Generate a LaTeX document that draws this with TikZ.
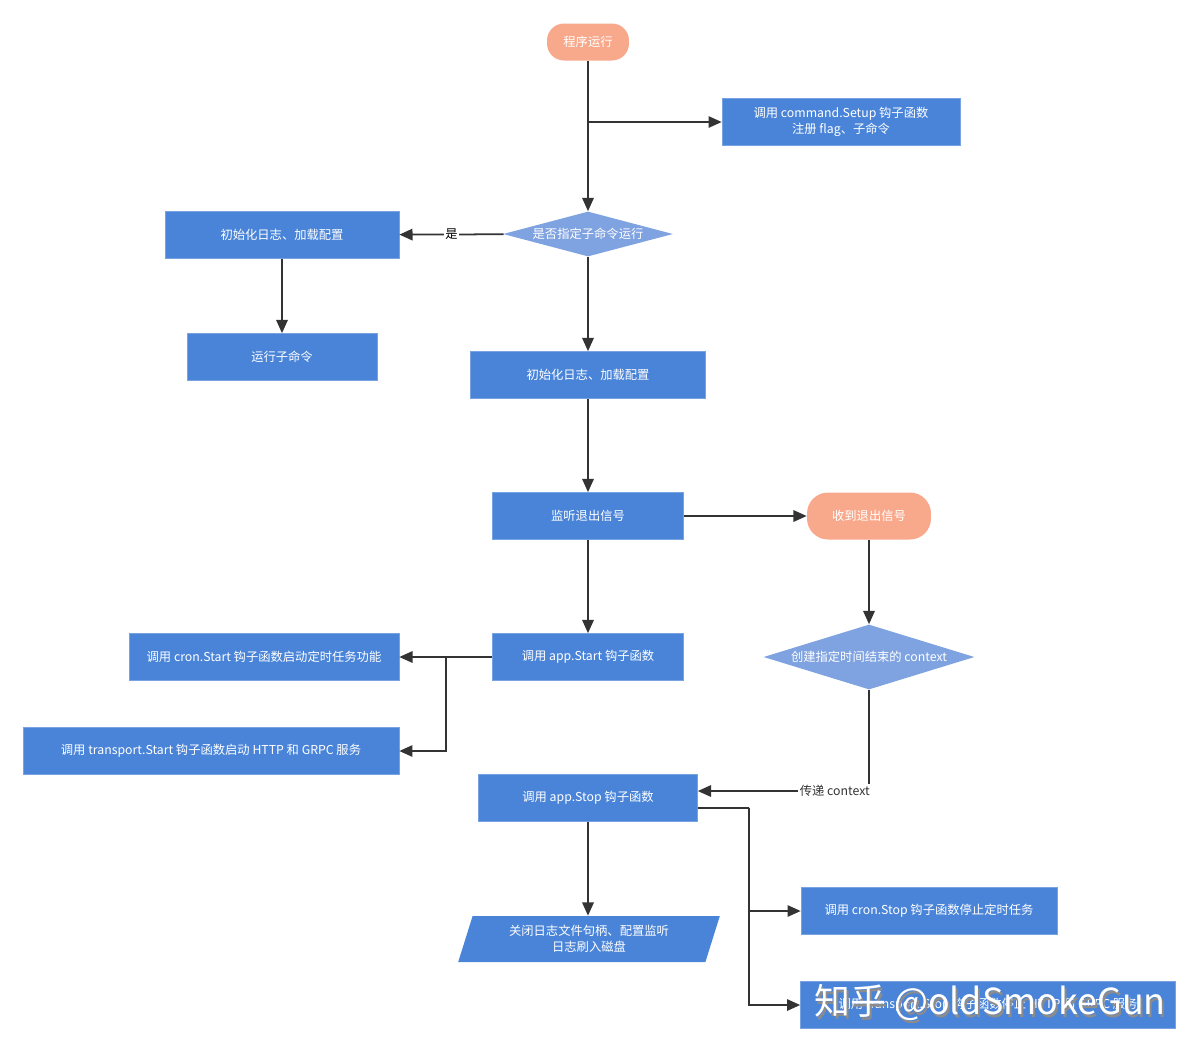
\documentclass[tikz,border=0pt]{standalone}
\usepackage{fontspec}
\setmainfont{Noto Sans CJK SC}
\usetikzlibrary{shapes.geometric,arrows.meta}
\definecolor{boxblue}{HTML}{4A84D8}
\definecolor{diamondblue}{HTML}{7FA2E0}
\definecolor{startorange}{HTML}{F8A98C}
\definecolor{linegray}{HTML}{333333}

\begin{document}
\begin{tikzpicture}[
    x=0.02cm, y=-0.02cm,
    font=\fontsize{7}{9}\selectfont,
    process/.style={rectangle, fill=boxblue, draw=boxblue!75!white, line width=0.4pt, text=white, inner sep=0pt, minimum height=0.94cm, align=center},
    terminal/.style={rectangle, rounded corners=0.34cm, fill=startorange, text=white, inner sep=0pt, minimum height=0.74cm},
    decision/.style={diamond, fill=diamondblue, text=white, inner sep=0pt},
    io_box/.style={trapezium, trapezium left angle=70, trapezium right angle=110, trapezium stretches=true, fill=boxblue, text=white, inner sep=0pt, align=center},
    flow_edge/.style={linegray, line width=1pt, -{Triangle[length=7.5pt, width=6.5pt]}},
    plain_edge/.style={linegray, line width=1pt},
    edge_label/.style={fill=white, text=black, inner sep=1pt}
]
\useasboundingbox (0,0) rectangle (1200,1052);

% --- Start and setup ---
\node[terminal, minimum width=1.64cm] (start) at (588,42) {程序运行};
\node[process, minimum width=4.76cm] (setup) at (841,122) {调用 command.Setup 钩子函数\\注册 flag、子命令};
\node[decision, aspect=3.8, minimum width=3.4cm, minimum height=0.9cm] (subcmd) at (588,234) {是否指定子命令运行};

\draw[flow_edge] (start) -- (subcmd);
\draw[flow_edge] (start |- setup) -- (setup);

% --- Sub command branch (left) ---
\node[process, minimum width=4.68cm] (initsub) at (282,235) {初始化日志、加载配置};
\node[process, minimum width=3.8cm] (runsub) at (282,357) {运行子命令};

\draw[flow_edge] (subcmd) -- node[edge_label] {是} (initsub);
\draw[flow_edge] (initsub) -- (runsub);

% --- Main branch ---
\node[process, minimum width=4.7cm] (initmain) at (588,375) {初始化日志、加载配置};
\node[process, minimum width=3.82cm] (listen) at (588,516) {监听退出信号};
\node[process, minimum width=3.82cm] (appstart) at (588,657) {调用 app.Start 钩子函数};

\draw[flow_edge] (subcmd) -- (initmain);
\draw[flow_edge] (initmain) -- (listen);
\draw[flow_edge] (listen) -- (appstart);

% Start hooks
\node[process, minimum width=5.4cm] (cronstart) at (264,657) {调用 cron.Start 钩子函数启动定时任务功能};
\node[process, minimum width=7.52cm] (transstart) at (211,751) {调用 transport.Start 钩子函数启动 HTTP 和 GRPC 服务};
\coordinate (startfork) at (446,657);

\draw[flow_edge] (appstart) -- (cronstart);
\draw[flow_edge] (startfork) |- (transstart);

% --- Exit signal branch (right) ---
\node[terminal, minimum width=2.48cm, minimum height=0.94cm, rounded corners=0.42cm] (signal) at (869,516) {收到退出信号};
\node[decision, aspect=3.25, minimum width=4.22cm, minimum height=1.3cm] (timeout) at (869,657) {创建指定时间结束的 context};

\draw[flow_edge] (listen) -- (signal);
\draw[flow_edge] (signal) -- (timeout);

% --- Stop hooks ---
\node[process, minimum width=4.38cm] (appstop) at (588,798) {调用 app.Stop 钩子函数};
\node[io_box, minimum width=5.24cm, minimum height=0.92cm] (closelog) at (589,939) {关闭日志文件句柄、配置监听\\日志刷入磁盘};
\node[process, minimum width=5.12cm] (cronstop) at (929,911) {调用 cron.Stop 钩子函数停止定时任务};
\node[process, minimum width=7.5cm] (transstop) at (988,1005) {调用 transport.Stop 钩子函数停止 HTTP 和 GRPC 服务};
\coordinate (stopfork) at (749,808);

\draw[flow_edge] (timeout) |- node[pos=0.6, edge_label, text=linegray] {传递 context} ([yshift=0.14cm]appstop.east);
\draw[flow_edge] (appstop) -- (appstop |- closelog.north);
\draw[plain_edge] ([yshift=-0.2cm]appstop.east) -- (stopfork);
\draw[flow_edge] (stopfork) |- (cronstop);
\draw[flow_edge] (stopfork) |- (transstop);

% Watermark
\node[text=black!45, font=\fontsize{20.4}{22}\selectfont] (markshadow) at (992,1006) {知乎 @oldSmokeGun};
\node[text=white, font=\fontsize{20.4}{22}\selectfont] (mark) at (990,1003) {知乎 @oldSmokeGun};
\end{tikzpicture}
\end{document}
